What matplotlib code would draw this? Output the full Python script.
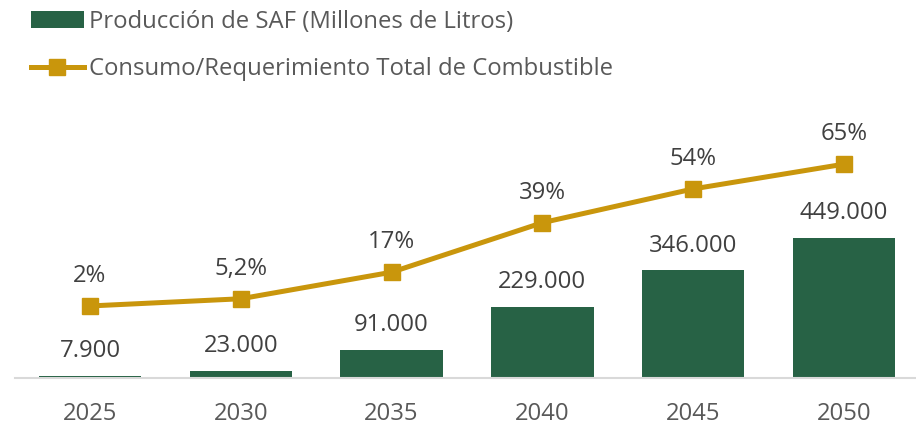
import matplotlib.pyplot as plt
from matplotlib.lines import Line2D
from matplotlib.patches import Patch

plt.rcParams["font.family"] = ["Open Sans", "DejaVu Sans"]

years = ["2025", "2030", "2035", "2040", "2045", "2050"]
production = [7900, 23000, 91000, 229000, 346000, 449000]
production_labels = ["7.900", "23.000", "91.000", "229.000", "346.000", "449.000"]
share = [2, 5.2, 17, 39, 54, 65]
share_labels = ["2%", "5,2%", "17%", "39%", "54%", "65%"]

GREEN = "#276245"
GOLD = "#C9960C"
TEXT = "#404040"
LEGEND_TEXT = "#595959"
FS = 17.2

fig = plt.figure(figsize=(9.16, 4.25), dpi=100)
ax = fig.add_axes([14.6 / 916, 1 - 378 / 425, 904.8 / 916, 278 / 425])
x = list(range(len(years)))

ax.bar(x, production, width=0.68, color=GREEN, zorder=2)
ax.set_xlim(-0.5, 5.5)
ax.set_ylim(0, 891500)
for xi, v, lab in zip(x, production, production_labels):
    ax.annotate(lab, (xi, v), xytext=(0, 9), textcoords="offset points",
                ha="center", va="bottom", fontsize=FS, color=TEXT)

ax2 = ax.twinx()
ax2.plot(x, share, color=GOLD, lw=3.6, marker="s", markersize=11, zorder=3)
ax2.set_ylim(-30, 93.5)
for xi, v, lab in zip(x, share, share_labels):
    ax2.annotate(lab, (xi, v), xytext=(0, 12.8), textcoords="offset points",
                 ha="center", va="bottom", fontsize=FS, color=TEXT)

for a in (ax, ax2):
    for side in ("top", "right", "left"):
        a.spines[side].set_visible(False)
    a.set_yticks([])
ax2.spines["bottom"].set_visible(False)
ax.spines["bottom"].set_color("#D9D9D9")
ax.spines["bottom"].set_linewidth(1.5)
ax.set_xticks(x)
ax.set_xticklabels(years, fontsize=FS, color=LEGEND_TEXT)
ax.tick_params(axis="x", length=0, pad=17.5)

handles = [
    Patch(facecolor=GREEN, edgecolor="none"),
    Line2D([], [], color=GOLD, lw=3.6, marker="s", markersize=11),
]
labels = ["Producción de SAF (Millones de Litros)",
          "Consumo/Requerimiento Total de Combustible"]
fig.legend(handles, labels, loc="upper left", bbox_to_anchor=(31 / 916, 1 - 10 / 425),
           frameon=False, fontsize=FS, labelcolor=LEGEND_TEXT, borderpad=0,
           borderaxespad=0, handlelength=2.2, handletextpad=0.22, labelspacing=0.98)

fig.savefig("out.png", dpi=100)
